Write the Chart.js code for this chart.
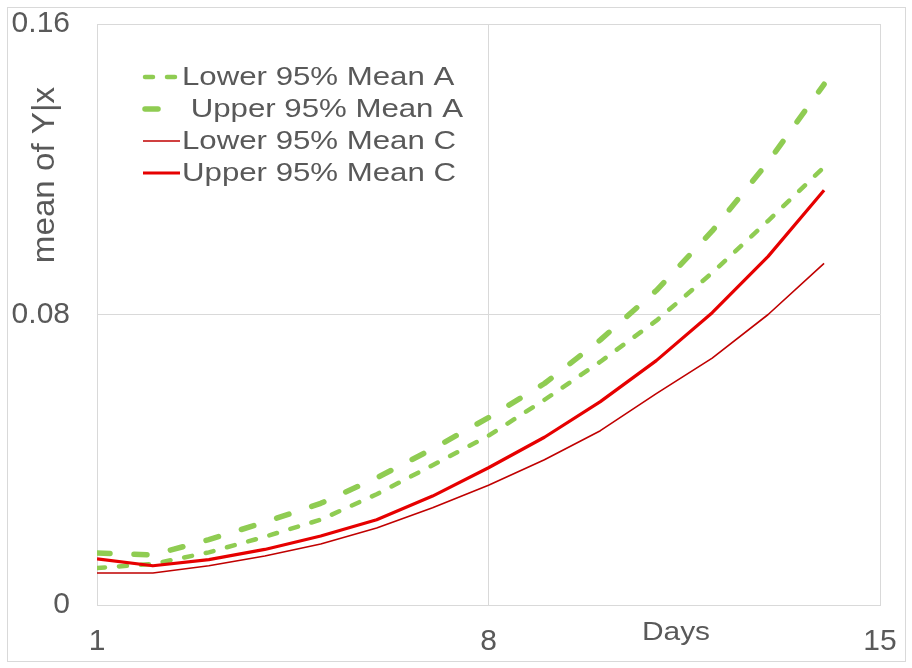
<!DOCTYPE html>
<html><head><meta charset="utf-8">
<script src="https://cdn.jsdelivr.net/npm/chart.js@4/dist/chart.umd.min.js"></script>
<style>html,body{margin:0;padding:0;background:#fff}#wrap{width:912px;height:668px;position:relative}</style>
</head><body><div id="wrap"><canvas id="c" width="912" height="668"></canvas></div>
<script>
const days = [1,2,3,4,5,6,7,8,9,10,11,12,13,14];
const lowerA = [0.0102,0.0113,0.0145,0.0188,0.0235,0.0305,0.0385,0.0466,0.0565,0.0670,0.0783,0.0915,0.1058,0.1206];
const upperA = [0.0143,0.0138,0.0180,0.0228,0.0280,0.0350,0.0430,0.0516,0.0610,0.0730,0.0866,0.1030,0.1220,0.1434];
const lowerC = [0.0088,0.0088,0.0108,0.0135,0.0168,0.0212,0.0268,0.0330,0.0400,0.0480,0.0582,0.0680,0.0800,0.0941];
const upperC = [0.0127,0.0108,0.0125,0.0153,0.0190,0.0235,0.0300,0.0378,0.0462,0.0560,0.0673,0.0805,0.0960,0.1142];
const seriesNames = ["Lower 95% Mean A"," Upper 95% Mean A","Lower 95% Mean C","Upper 95% Mean C"];
const xTicks = [1, 8, 15];
const yTicks = [0, 0.08, 0.16];
const xTitle = "Days";
const yTitle = "mean of Y|x";

const FONT = "'Liberation Sans', Arial, sans-serif";
const TXT = "#595959";
const GRID = "#d9d9d9";
const GREEN = "#8fcc52";

function pts(arr){ return days.map((d,i)=>({x:d,y:arr[i]})); }

const datasets = [
  {label:seriesNames[0], data:pts(lowerA), borderColor:GREEN, borderWidth:4.5, borderDash:[8,14], borderCapStyle:'round', order:4},
  {label:seriesNames[1], data:pts(upperA), borderColor:GREEN, borderWidth:5.5, borderDash:[13,24], borderCapStyle:'round', order:3},
  {label:seriesNames[2], data:pts(lowerC), borderColor:"#c00000", borderWidth:1.6, order:2},
  {label:seriesNames[3], data:pts(upperC), borderColor:"#e60000", borderWidth:3.2, order:1}
].map(d=>Object.assign({pointRadius:0, pointHoverRadius:0, tension:0, fill:false, borderJoinStyle:'round'}, d));

const decor = {
  id:'decor',
  beforeDraw(chart){
    const ctx = chart.ctx;
    ctx.save();
    ctx.fillStyle = '#fff';
    ctx.fillRect(0,0,chart.width,chart.height);
    ctx.strokeStyle = GRID; ctx.lineWidth = 1;
    ctx.strokeRect(7.5,7.5,898,654);
    ctx.restore();
  },
  afterDraw(chart){
    const ctx = chart.ctx;
    ctx.save();
    const rows = [77,109,141,173];
    chart.data.datasets.forEach((ds,i)=>{
      const y = rows[i];
      ctx.save();
      ctx.strokeStyle = ds.borderColor;
      ctx.lineWidth = ds.borderWidth;
      ctx.lineCap = ds.borderDash ? 'round' : 'butt';
      ctx.setLineDash(ds.borderDash || []);
      ctx.beginPath();
      if (ds.borderDash){ ctx.moveTo(145,y); ctx.lineTo(177,y); }
      else { ctx.moveTo(143,y); ctx.lineTo(180,y); }
      ctx.stroke();
      ctx.restore();
      ctx.save();
      ctx.fillStyle = TXT;
      ctx.font = "26px " + FONT;
      ctx.textBaseline = 'middle';
      ctx.textAlign = 'left';
      ctx.translate(182, y+1);
      ctx.scale(1.2,1);
      ctx.fillText(ds.label, 0, 0);
      ctx.restore();
    });
    ctx.fillStyle = TXT;
    ctx.save();
    ctx.font = "26px " + FONT;
    ctx.textAlign='center'; ctx.textBaseline='middle';
    ctx.translate(676, 633);
    ctx.scale(1.15,1);
    ctx.fillText(xTitle, 0, 0);
    ctx.restore();
    ctx.save();
    ctx.font = "31px " + FONT;
    ctx.textAlign='center'; ctx.textBaseline='middle';
    ctx.translate(45, 175);
    ctx.rotate(-Math.PI/2);
    ctx.scale(1.07,1);
    ctx.fillText(yTitle, 0, 0);
    ctx.restore();
    ctx.restore();
  }
};

new Chart(document.getElementById('c'), {
  type:'line',
  data:{datasets},
  options:{
    responsive:false, animation:false,
    layout:{padding:{top:24,right:32,left:0,bottom:0}},
    plugins:{legend:{display:false}, tooltip:{enabled:false}},
    scales:{
      x:{type:'linear', min:1, max:15,
        afterBuildTicks(s){ s.ticks = xTicks.map(v=>({value:v})); },
        afterFit(s){ s.height = 63; s.paddingLeft = 0; s.paddingRight = 0; },
        grid:{color:GRID, drawTicks:false, lineWidth:1},
        border:{color:GRID},
        ticks:{font:{family:FONT,size:30}, color:TXT, padding:19, maxRotation:0, autoSkip:false, callback:v=>String(v)}
      },
      y:{type:'linear', min:0, max:0.16,
        afterBuildTicks(s){ s.ticks = yTicks.map(v=>({value:v})); },
        afterFit(s){ s.width = 97; s.paddingTop = 0; s.paddingBottom = 0; },
        grid:{color:GRID, drawTicks:false, lineWidth:1},
        border:{color:GRID},
        ticks:{font:{family:FONT,size:30}, color:TXT, padding:27, autoSkip:false, callback:v=> v===0 ? '0' : v.toFixed(2)}
      }
    }
  },
  plugins:[decor]
});
</script></body></html>
